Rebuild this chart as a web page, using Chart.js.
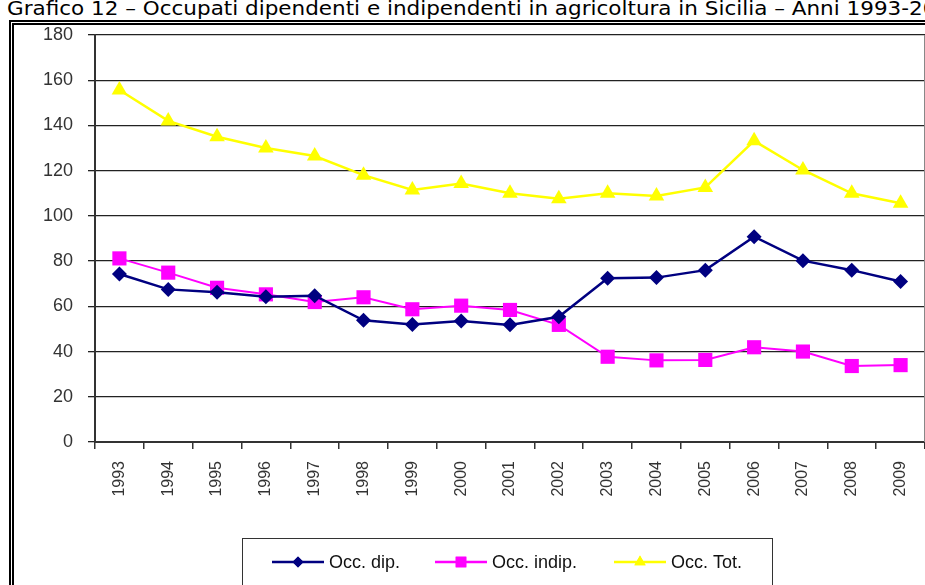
<!DOCTYPE html>
<html>
<head>
<meta charset="utf-8">
<script src="https://cdn.jsdelivr.net/npm/chart.js@4/dist/chart.umd.min.js"></script>
<style>
  body { margin: 0; width: 925px; height: 585px; overflow: hidden; background: #fff; position: relative; }
  #titolo {
    position: absolute; left: 7px; top: -2px; white-space: nowrap; line-height: 20px;
    font-family: "DejaVu Sans", sans-serif; font-size: 20px; color: #000;
    transform: scaleX(1.075); transform-origin: 0 0;
  }
  #cornice {
    position: absolute; left: 9px; top: 20px; width: 940px; height: 600px;
    border: 5px double #000;
  }
  #box { position: absolute; left: 14px; top: 25px; width: 921px; height: 560px; }
</style>
</head>
<body>
<div id="titolo">Grafico 12 – Occupati dipendenti e indipendenti in agricoltura in Sicilia – Anni 1993-2009</div>
<div id="cornice"></div>
<div id="box"><canvas id="myChart" width="921" height="560"></canvas></div>
<script>
// Anni
const anni = ['1993','1994','1995','1996','1997','1998','1999','2000','2001','2002','2003','2004','2005','2006','2007','2008','2009'];

// Occupati dipendenti (migliaia)
const occDip = [74.3, 67.5, 66.2, 64.2, 64.7, 53.8, 52.0, 53.5, 51.8, 55.4, 72.4, 72.7, 76.0, 90.8, 80.2, 76.0, 71.0];

// Occupati indipendenti (migliaia)
const occIndip = [81.2, 74.9, 68.2, 65.3, 61.9, 64.0, 58.7, 60.3, 58.4, 51.8, 37.7, 36.1, 36.3, 41.9, 40.0, 33.6, 34.0];

// Occupati totali (migliaia)
const occTot = [155.7, 142.0, 135.0, 130.0, 126.5, 118.0, 111.5, 114.3, 110.0, 107.6, 110.0, 108.8, 112.6, 133.2, 120.3, 110.0, 105.6];

// Tick dell'asse Y
const tickY = [0, 20, 40, 60, 80, 100, 120, 140, 160, 180];

const fonte = '"Liberation Sans", Arial, sans-serif';

// Bordo destro dell'area del grafico
const bordoArea = {
    id: 'bordoArea',
    beforeDatasetsDraw(chart) {
        const { ctx, chartArea } = chart;
        ctx.save();
        ctx.strokeStyle = '#888';
        ctx.lineWidth = 1;
        ctx.beginPath();
        ctx.moveTo(chartArea.right - 0.5, chartArea.top);
        ctx.lineTo(chartArea.right - 0.5, chartArea.bottom);
        ctx.stroke();
        ctx.restore();
    }
};

// Legenda disegnata a mano, con linea e marcatore come in Excel
const legendaExcel = {
    id: 'legendaExcel',
    afterDraw(chart) {
        const ctx = chart.ctx;
        const x0 = 228, y0 = 513, w = 530, h = 60;
        ctx.save();
        ctx.strokeStyle = '#333';
        ctx.lineWidth = 1;
        ctx.strokeRect(x0 + 0.5, y0 + 0.5, w, h);

        const cy = 537;
        const voci = [
            { x: 258, ds: chart.data.datasets[0], r: 5.5 },
            { x: 421, ds: chart.data.datasets[1], r: 7.5 },
            { x: 600, ds: chart.data.datasets[2], r: 6.5 },
        ];
        voci.forEach(v => {
            ctx.strokeStyle = v.ds.borderColor;
            ctx.lineWidth = 2.5;
            ctx.beginPath();
            ctx.moveTo(v.x, cy);
            ctx.lineTo(v.x + 52, cy);
            ctx.stroke();
            ctx.fillStyle = v.ds.pointBackgroundColor;
            Chart.helpers.drawPoint(ctx, { pointStyle: v.ds.pointStyle, radius: v.r, borderWidth: 0, rotation: 0 }, v.x + 26, cy);
            ctx.fill();
            ctx.fillStyle = '#111';
            ctx.font = '18px ' + fonte;
            ctx.textBaseline = 'middle';
            ctx.fillText(v.ds.label, v.x + 57, cy + 1);
        });
        ctx.restore();
    }
};

const config = {
    type: 'line',
    data: {
        labels: anni,
        datasets: [
            {
                label: 'Occ. dip.',
                data: occDip,
                borderColor: '#000080',
                backgroundColor: '#000080',
                pointBackgroundColor: '#000080',
                pointBorderColor: '#000080',
                borderWidth: 2.5,
                pointStyle: 'rectRot',
                pointRadius: 7.5,
                pointBorderWidth: 0,
                tension: 0,
            },
            {
                label: 'Occ. indip.',
                data: occIndip,
                borderColor: '#FF00FF',
                backgroundColor: '#FF00FF',
                pointBackgroundColor: '#FF00FF',
                pointBorderColor: '#FF00FF',
                borderWidth: 2,
                pointStyle: 'rect',
                pointRadius: 10,
                pointBorderWidth: 0,
                tension: 0,
            },
            {
                label: 'Occ. Tot.',
                data: occTot,
                borderColor: '#FFFF00',
                backgroundColor: '#FFFF00',
                pointBackgroundColor: '#FFFF00',
                pointBorderColor: '#FFFF00',
                borderWidth: 2.5,
                pointStyle: 'triangle',
                pointRadius: 9,
                pointBorderWidth: 0,
                tension: 0,
            },
        ]
    },
    options: {
        responsive: false,
        animation: false,
        layout: { padding: { top: 10, right: 0, bottom: 73, left: 0 } },
        plugins: {
            legend: { display: false },
            tooltip: { enabled: false },
        },
        scales: {
            x: {
                offset: true,
                grid: { offset: true, drawOnChartArea: false, drawTicks: true, tickLength: 7, color: '#333', lineWidth: 1.5 },
                border: { color: '#333', width: 2 },
                ticks: {
                    color: '#333', padding: 12, minRotation: 90, maxRotation: 90, autoSkip: false,
                    font: { family: fonte, size: 16 }
                },
                afterFit(scale) {
                    scale.height = 70;
                }
            },
            y: {
                min: 0, max: 180,
                afterBuildTicks(scale) { scale.ticks = tickY.map(v => ({ value: v })); },
                grid: { color: '#222', lineWidth: 1.3, tickLength: 7 },
                border: { color: '#333', width: 2 },
                ticks: {
                    color: '#333', padding: 15,
                    font: { family: fonte, size: 18 }
                },
                afterFit(scale) {
                    scale.width = 81;
                    scale.paddingTop = 0;
                    scale.paddingBottom = 0;
                }
            }
        }
    },
    plugins: [bordoArea, legendaExcel]
};

const myChart = new Chart(document.getElementById('myChart'), config);
</script>
</body>
</html>
